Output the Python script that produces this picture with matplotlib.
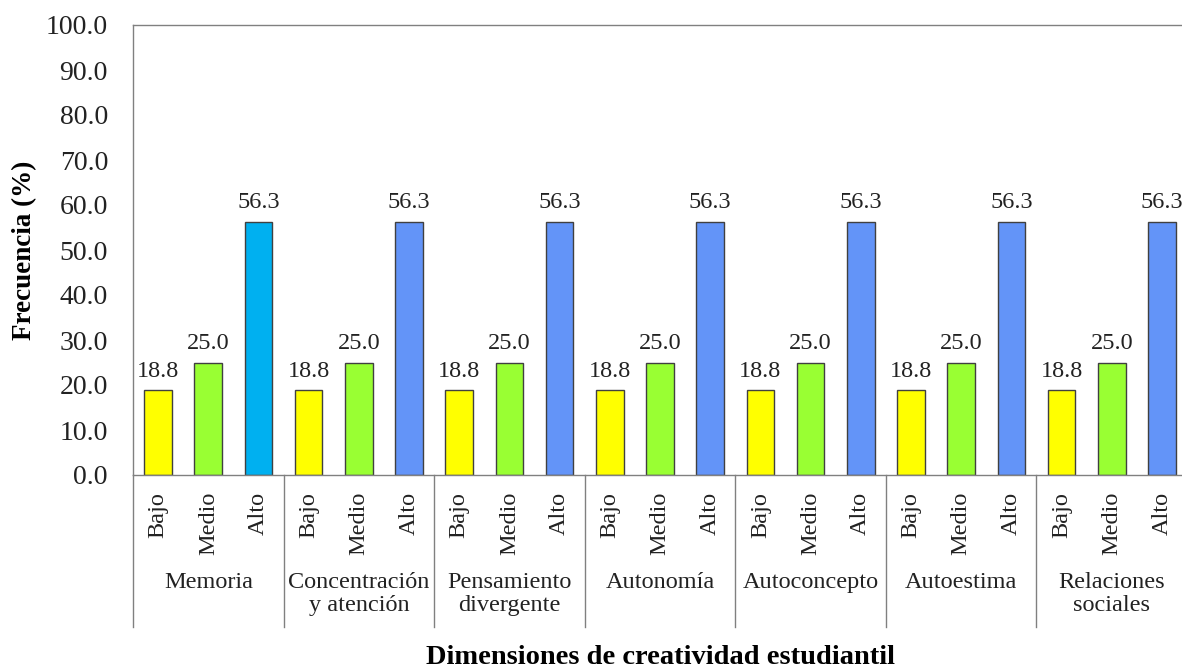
import numpy as np
import matplotlib
matplotlib.use("Agg")
import matplotlib.pyplot as plt
import matplotlib.transforms as mtransforms

plt.rcParams['font.family'] = ['Liberation Serif', 'DejaVu Serif']

dimensiones = ["Memoria", "Concentración\ny atención", "Pensamiento\ndivergente",
               "Autonomía", "Autoconcepto", "Autoestima", "Relaciones\nsociales"]
niveles = ["Bajo", "Medio", "Alto"]
bajo = [18.8, 18.8, 18.8, 18.8, 18.8, 18.8, 18.8]
medio = [25.0, 25.0, 25.0, 25.0, 25.0, 25.0, 25.0]
alto = [56.3, 56.3, 56.3, 56.3, 56.3, 56.3, 56.3]

c_bajo = "#FFFF00"
c_medio = "#99FF33"
c_alto = ["#00B0F0"] + ["#6394F8"] * 6

W, H = 1182, 671
fig = plt.figure(figsize=(W / 100, H / 100), dpi=100)
left, right, top, bottom = 133, 1187, 25, 475
ax = fig.add_axes([left / W, 1 - bottom / H, (right - left) / W, (bottom - top) / H])

fs = 17.5
pos = []
vals = []
cols = []
for i in range(len(dimensiones)):
    for j, (v, c) in enumerate(zip([bajo[i], medio[i], alto[i]], [c_bajo, c_medio, c_alto[i]])):
        pos.append(3 * i + j)
        vals.append(v)
        cols.append(c)

bars = ax.bar(pos, vals, width=0.55, color=cols, edgecolor="#404040", linewidth=1)
for b, v in zip(bars, vals):
    ax.annotate(f"{v:.1f}", (b.get_x() + b.get_width() / 2, v), xytext=(0, 6),
                textcoords="offset points", ha="center", va="bottom", fontsize=fs,
                color="#222222")

ax.set_xlim(-0.5, 3 * len(dimensiones) - 0.5)
ax.set_ylim(0, 100)
ax.set_yticks(np.arange(0, 101, 10))
ax.set_yticklabels([f"{t:.1f}" for t in np.arange(0, 101, 10)], fontsize=20, color="#222222")
ax.tick_params(axis="y", length=0, pad=18)

ax.set_xticks(pos)
ax.set_xticklabels(niveles * len(dimensiones), rotation=90, fontsize=fs, color="#222222")
ax.tick_params(axis="x", length=0, pad=12)

for s in ["left", "top", "bottom"]:
    ax.spines[s].set_color("#808080")
    ax.spines[s].set_linewidth(1)
ax.spines["right"].set_visible(False)

trans = mtransforms.blended_transform_factory(ax.transData, ax.transAxes)
sep_low = -(627 - bottom) / (bottom - top)
for k in range(len(dimensiones) + 1):
    ax.plot([3 * k - 0.5, 3 * k - 0.5], [0, sep_low], transform=trans, color="#808080",
            linewidth=1, clip_on=False)
for i, d in enumerate(dimensiones):
    ax.text(3 * i + 1, -(572 - bottom) / (bottom - top), d, transform=trans, ha="center",
            va="top", fontsize=fs, linespacing=1.15, color="#222222")

fig.text(660 / W, 1 - 658 / H, "Dimensiones de creatividad estudiantil", ha="center",
         va="center", fontsize=20.5, fontweight="bold")
fig.text(25 / W, 1 - 250 / H, "Frecuencia (%)", ha="center", va="center", rotation=90,
         fontsize=19.5, fontweight="bold")

fig.savefig("out.png", dpi=100)
